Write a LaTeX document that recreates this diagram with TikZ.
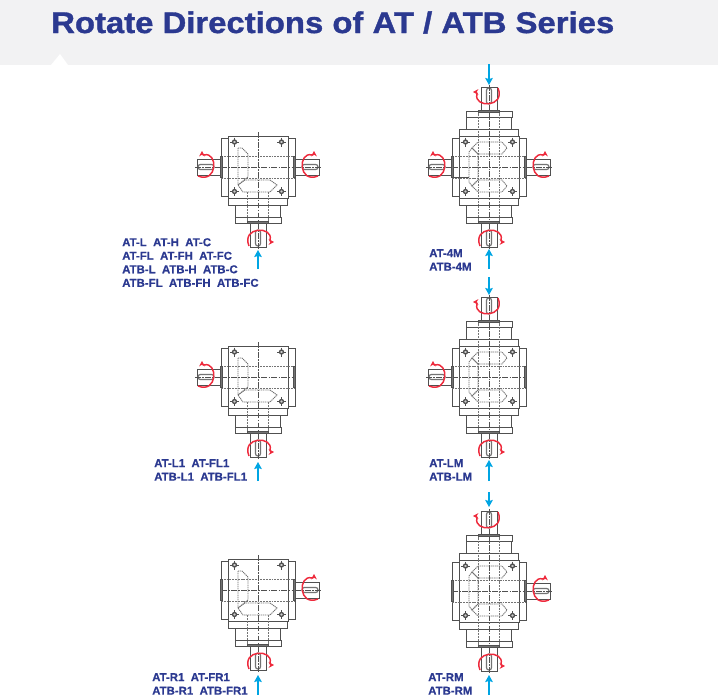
\documentclass[tikz,border=0pt]{standalone}
\usepackage{fontspec}
\setmainfont{Liberation Sans}
\newfontfamily\titlefont[FakeStretch=1.1,FakeBold=1.2]{Liberation Sans Bold}
\newfontfamily\labelfont[FakeBold=0.6]{Liberation Sans Bold}
\usetikzlibrary{arrows.meta}
\definecolor{titleblue}{HTML}{2B3990}
\definecolor{bandgray}{HTML}{F2F2F3}
\definecolor{flowblue}{HTML}{00A5E3}
\definecolor{spinred}{HTML}{EE2A3C}
\definecolor{partgray}{HTML}{505050}
\tikzset{
  part/.style={draw=partgray,line width=0.8pt,fill=white},
  hidden/.style={draw=partgray!80,line width=0.65pt,dash pattern=on 1.6pt off 0.8pt},
  gearline/.style={draw=partgray!80,line width=0.75pt,dash pattern=on 1pt off 0.6pt},
  axis/.style={draw=partgray,line width=0.7pt,dash pattern=on 5pt off 1.2pt on 1.2pt off 1.2pt},
  flow/.style={draw=flowblue,line width=1.8pt,-{Stealth[length=6pt,width=6.5pt,inset=1pt]}},
  spin/.style={draw=spinred,line width=1.25pt,-{Stealth[length=4.6pt,width=5pt]}},
  typelabel/.style={anchor=north west,inner sep=0pt,align=left,text=titleblue,
    font=\fontsize{9.75}{11.55}\labelfont},
  bolt/.pic={
    \draw[partgray,line width=0.4pt] (-4.5,0) -- (4.5,0) (0,-4.5) -- (0,4.5);
    \draw[partgray,line width=1.1pt,fill=partgray!30] (0,0) circle (2);
  },
  stub/.pic={
    \draw[part,fill=partgray!80] (-10.5,-1.5) rectangle (10.5,0.5);
  },
  shaft/.pic={
    \draw[part] (-8,0) rectangle (8,24);
    \draw[part,fill=partgray!80] (-10.5,-1.5) rectangle (10.5,0.5);
    \draw[part,draw=partgray!80,line width=1pt,rounded corners=2pt] (-2.5,7) rectangle (2.5,23);
    \draw[axis] (0,0) -- (0,26);
    \draw[spin] (-9,23) .. controls (-17,3) and (16,3) .. (12,17) .. controls (12.5,18.5) and (13,19) .. (16,19);
  },
  housing/.pic={
    \draw[part] (-37,-29) rectangle (37,29);
    \draw[part] (-30,-31) rectangle (30,31);
    \draw[hidden] (-37,-11) -- (37,-11) (-37,11) -- (37,11);
    \pic at (-23.5,-25) {bolt};
    \pic at (23.5,-25) {bolt};
    \pic at (-23.5,24.5) {bolt};
    \pic at (23.5,24.5) {bolt};
  },
  module/.pic={
    \draw[part] (-29.5,31) rectangle (29.5,38);
    \draw[part] (-22.5,38) rectangle (22.5,50);
    \draw[part] (-23,50) rectangle (23,56);
    \draw[hidden] (-10.5,31) -- (-10.5,56) (10.5,31) -- (10.5,56);
  },
  geartee/.pic={
    \draw[gearline] (-20,-19) -- (-16,-19) -- (-10,-13) -- (-10,10) -- (-20,18) -- cycle;
    \draw[gearline] (-20,18) -- (-13,13) -- (12,13) -- (19,18) -- (12,25) -- (-15,25) -- cycle;
    \draw[hidden] (-10.5,25) -- (-10.5,31) (10.5,25) -- (10.5,31);
  },
  gearcross/.pic={
    \draw[gearline] (-11,-25) -- (13,-25) -- (18,-19) -- (13,-13) -- (-11,-13) -- (-17,-19) -- cycle;
    \draw[gearline] (-11,25) -- (13,25) -- (18,19) -- (13,13) -- (-11,13) -- (-17,19) -- cycle;
    \draw[gearline] (-20,-15) -- (-17,-19) -- (-11,-13) -- (-11,13) -- (-17,19) -- (-20,15) -- cycle;
    \draw[hidden] (-10.5,-31) -- (-10.5,31) (10.5,-31) -- (10.5,31);
  },
}
\begin{document}
\begin{tikzpicture}[x=0.03cm,y=-0.03cm]
\useasboundingbox (0,0) rectangle (718,700);
\fill[bandgray] (0,0) rectangle (718,65);
\fill[white] (51,65) -- (60,54) -- (68,65) -- cycle;
\node[anchor=west,inner sep=0pt,text=titleblue,font=\fontsize{25.5}{30}\titlefont] (title) at (51,22.5) {Rotate Directions of AT / ATB Series};

% AT-L
\begin{scope}[shift={(258,167)}]
\pic {module};
\pic {housing};
\pic {geartee};
\draw[axis] (0,-35) -- (0,56) (-37,0) -- (37,0);
\pic at (0,56) {shaft};
\pic[rotate=-90,xscale=-1] at (-37,0) {shaft};
\pic[rotate=90] at (37,0) {shaft};
\end{scope}
% AT-L1
\begin{scope}[shift={(258,377)}]
\pic {module};
\pic {housing};
\pic {geartee};
\draw[axis] (0,-35) -- (0,56) (-37,0) -- (37,0);
\pic at (0,56) {shaft};
\pic[rotate=-90,xscale=-1] at (-37,0) {shaft};
\pic[rotate=90] at (37,0) {stub};
\end{scope}
% AT-R1
\begin{scope}[shift={(258,590)}]
\pic {module};
\pic {housing};
\pic {geartee};
\draw[axis] (0,-35) -- (0,56) (-37,0) -- (37,0);
\pic at (0,56) {shaft};
\pic[rotate=-90] at (-37,0) {stub};
\pic[rotate=90] at (37,0) {shaft};
\end{scope}
% AT-4M
\begin{scope}[shift={(489,167)}]
\pic {module};
\pic[yscale=-1] {module};
\pic {housing};
\pic {gearcross};
\draw[axis] (0,-56) -- (0,56) (-37,0) -- (37,0);
\draw[partgray,line width=0.6pt] (-37,10) -- (-20,10);
\pic at (0,56) {shaft};
\pic[rotate=180] at (0,-56) {shaft};
\pic[rotate=-90,xscale=-1] at (-37,0) {shaft};
\pic[rotate=90] at (37,0) {shaft};
\end{scope}
% AT-LM
\begin{scope}[shift={(489,377)}]
\pic {module};
\pic[yscale=-1] {module};
\pic {housing};
\pic {gearcross};
\draw[axis] (0,-56) -- (0,56) (-37,0) -- (37,0);
\pic at (0,56) {shaft};
\pic[rotate=180] at (0,-56) {shaft};
\pic[rotate=-90,xscale=-1] at (-37,0) {shaft};
\pic[rotate=90] at (37,0) {stub};
\end{scope}
% AT-RM
\begin{scope}[shift={(489,591)}]
\pic {module};
\pic[yscale=-1] {module};
\pic {housing};
\pic {gearcross};
\draw[axis] (0,-56) -- (0,56) (-37,0) -- (37,0);
\pic at (0,56) {shaft};
\pic[rotate=180] at (0,-56) {shaft};
\pic[rotate=-90] at (-37,0) {stub};
\pic[rotate=90] at (37,0) {shaft};
\end{scope}

\coordinate (feedL) at (258,269);
\coordinate (tipL) at (258,250);
\coordinate (feedLa) at (258,481);
\coordinate (tipLa) at (258,462);
\coordinate (feedRa) at (258,695);
\coordinate (tipRa) at (258,675);
\coordinate (feedFa) at (489,64);
\coordinate (tipFa) at (489,85);
\coordinate (feedFb) at (489,269);
\coordinate (tipFb) at (489,249);
\coordinate (feedLMa) at (489,277);
\coordinate (tipLMa) at (489,295);
\coordinate (feedLMb) at (489,481);
\coordinate (tipLMb) at (489,460);
\coordinate (feedRMa) at (489,492);
\coordinate (tipRMa) at (489,507);
\coordinate (feedRMb) at (489,695);
\coordinate (tipRMb) at (489,675);
\draw[flow] (feedL) -- (tipL);
\draw[flow] (feedLa) -- (tipLa);
\draw[flow] (feedRa) -- (tipRa);
\draw[flow] (feedFa) -- (tipFa);
\draw[flow] (feedFb) -- (tipFb);
\draw[flow] (feedLMa) -- (tipLMa);
\draw[flow] (feedLMb) -- (tipLMb);
\draw[flow] (feedRMa) -- (tipRMa);
\draw[flow] (feedRMb) -- (tipRMb);

\node[typelabel] (labL) at (122,238) {AT-L\ \ AT-H\ \ AT-C\\AT-FL\ \ AT-FH\ \ AT-FC\\ATB-L\ \ ATB-H\ \ ATB-C\\ATB-FL\ \ ATB-FH\ \ ATB-FC};
\node[typelabel] (labLa) at (154,459) {AT-L1\ \ AT-FL1\\ATB-L1\ \ ATB-FL1};
\node[typelabel] (labRa) at (152,673) {AT-R1\ \ AT-FR1\\ATB-R1\ \ ATB-FR1};
\node[typelabel] (labF) at (429,249) {AT-4M\\ATB-4M};
\node[typelabel] (labLM) at (429,459) {AT-LM\\ATB-LM};
\node[typelabel] (labRM) at (428,673) {AT-RM\\ATB-RM};
\end{tikzpicture}
\end{document}
